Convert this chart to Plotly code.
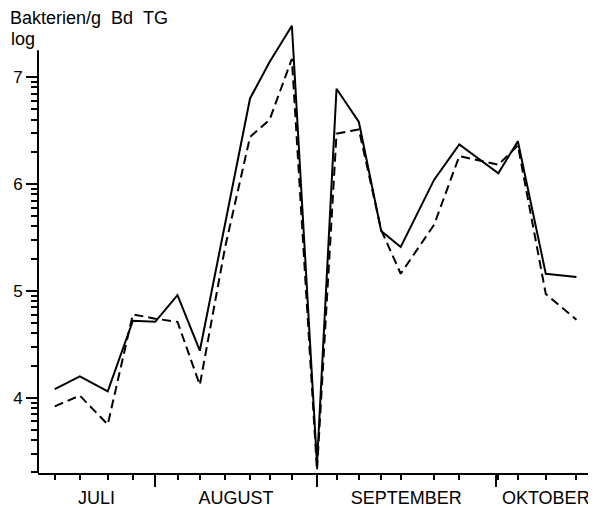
"""
    Purpose: Bacteria counts (log per g dry matter) over the sampling season, two series
        (solid and dashed), with month labels on the x axis and log-style minor ticks on y.
    Outputs:
        out.html: self-contained html file with the figure.
"""
##########==========##########==========##########==========##########==========##########==========
## INITIALIZE

import math
import plotly.graph_objects as go

## data: sampling day (days from start of axis) and log counts
sample_day = [3, 7.5, 12.5, 17, 21, 25, 29, 33.5, 38, 41.5, 45.5, 50, 53.5, 57.5,
              61.5, 65, 71, 75.5, 82.5, 86, 91, 96.5]
solid_log = [4.08, 4.20, 4.06, 4.72, 4.71, 4.96, 4.44, 5.62, 6.80, 7.14, 7.48, 3.38, 6.89, 6.58,
             5.56, 5.41, 6.04, 6.37, 6.10, 6.40, 5.16, 5.13]
dashed_log = [3.92, 4.02, 3.75, 4.78, 4.74, 4.71, 4.12, 5.40, 6.44, 6.60, 7.17, 3.32, 6.47, 6.51,
              5.57, 5.16, 5.62, 6.26, 6.18, 6.36, 4.97, 4.73]

month_names = ['JULI', 'AUGUST', 'SEPTEMBER', 'OKTOBER']
month_bounds = [0, 21, 50, 82, 100]
y_major = [4, 5, 6, 7]

## define parameters
## (page body has an 8px margin, so the figure is 8px smaller than the window)
params = dict()
params['width'] = 588
params['height'] = 500
params['font'] = 'Liberation Sans, Arial, Helvetica, sans-serif'
params['x_range'] = [0, 100]
params['y_range'] = [3.296, 7.515]
params['y_axis_top'] = 7.25


##########==========##########==========##########==========##########==========##########==========
## COMPONENT FUNCTIONS

def minor_y_ticks():
    """log-style minor ticks inside each decade"""
    ticks = []
    for n in range(3, 8):
        for k in range(2, 10):
            v = n + math.log10(k)
            if params['y_range'][0] <= v <= params['y_axis_top']:
                ticks.append(v)
    return ticks


def create_figure():
    fig = go.Figure()
    mids = [(month_bounds[i] + month_bounds[i + 1]) / 2 for i in range(len(month_names))]
    ## sample ticks that fall on a month boundary get the long boundary tick instead
    sample_ticks = [d for d in sample_day if d not in month_bounds]
    fig = fig.update_layout(
        width = params['width'], height = params['height'],
        margin = dict(l = 30, r = 0, t = 14, b = 33),
        plot_bgcolor = 'white', paper_bgcolor = 'white',
        font = dict(family = params['font'], color = 'black', size = 18),
        showlegend = False,
        xaxis = dict(
            range = params['x_range'], showgrid = False, zeroline = False,
            showline = True, linecolor = 'black', linewidth = 2,
            tickmode = 'array', tickvals = month_bounds[1:-1], ticktext = ['', '', ''],
            ticks = 'outside', ticklen = 12, tickwidth = 2, tickcolor = 'black',
            minor = dict(tickmode = 'array', tickvals = sample_ticks, ticks = 'outside',
                         ticklen = 5, tickwidth = 1.5, tickcolor = 'black'),
        ),
        xaxis2 = dict(
            range = params['x_range'], overlaying = 'x', anchor = 'y', side = 'bottom',
            showgrid = False, zeroline = False, showline = False,
            tickmode = 'array', tickvals = mids, ticktext = month_names,
            ticks = 'outside', ticklen = 8, tickcolor = 'rgba(0,0,0,0)',
            tickfont = dict(size = 18),
        ),
        yaxis = dict(
            range = params['y_range'], showgrid = False, zeroline = False,
            showline = False,
            tickmode = 'array', tickvals = y_major, ticktext = [str(v) for v in y_major],
            ticks = 'outside', ticklen = 11, tickwidth = 1.5, tickcolor = 'black',
            tickfont = dict(size = 17),
            minor = dict(tickmode = 'array', tickvals = minor_y_ticks(), ticks = 'outside',
                         ticklen = 6, tickwidth = 1.5, tickcolor = 'black'),
        ),
    )
    ## y axis line stops below the top of the plot area, as in the original
    fig.add_shape(type = 'line', xref = 'paper', x0 = 0, x1 = 0, yref = 'y',
                  y0 = params['y_range'][0], y1 = params['y_axis_top'],
                  line = dict(color = 'black', width = 2))
    fig.add_annotation(x = 0, y = 1, xref = 'paper', yref = 'paper', xanchor = 'left',
                       yanchor = 'middle', xshift = -29, yshift = 4, showarrow = False,
                       borderpad = 0,
                       text = 'Bakterien/g\u00a0\u00a0Bd\u00a0\u00a0TG', font = dict(size = 18))
    fig.add_annotation(x = 0, y = 1, xref = 'paper', yref = 'paper', xanchor = 'left',
                       yanchor = 'middle', xshift = -28, yshift = -17, showarrow = False,
                       borderpad = 0, text = 'log', font = dict(size = 18))
    return fig


def build_traces():
    traces = []
    traces.append(go.Scatter(x = sample_day, y = solid_log, mode = 'lines', name = 'solid',
                             line = dict(color = 'black', width = 2)))
    traces.append(go.Scatter(x = sample_day, y = dashed_log, mode = 'lines', name = 'dashed',
                             line = dict(color = 'black', width = 2, dash = '9px,5px')))
    ## empty trace so the month-label axis is drawn
    traces.append(go.Scatter(x = month_bounds, y = [None] * len(month_bounds), xaxis = 'x2',
                             mode = 'lines', hoverinfo = 'skip'))
    return traces


##########==========##########==========##########==========##########==========##########==========
## TOP-LEVEL FUNCTIONS

def draw_chart():
    fig = create_figure()
    fig = fig.add_traces(build_traces())
    fig.write_html('out.html')
    return fig


if __name__ == '__main__':
    draw_chart()

##########==========##########==========##########==========##########==========##########==========
